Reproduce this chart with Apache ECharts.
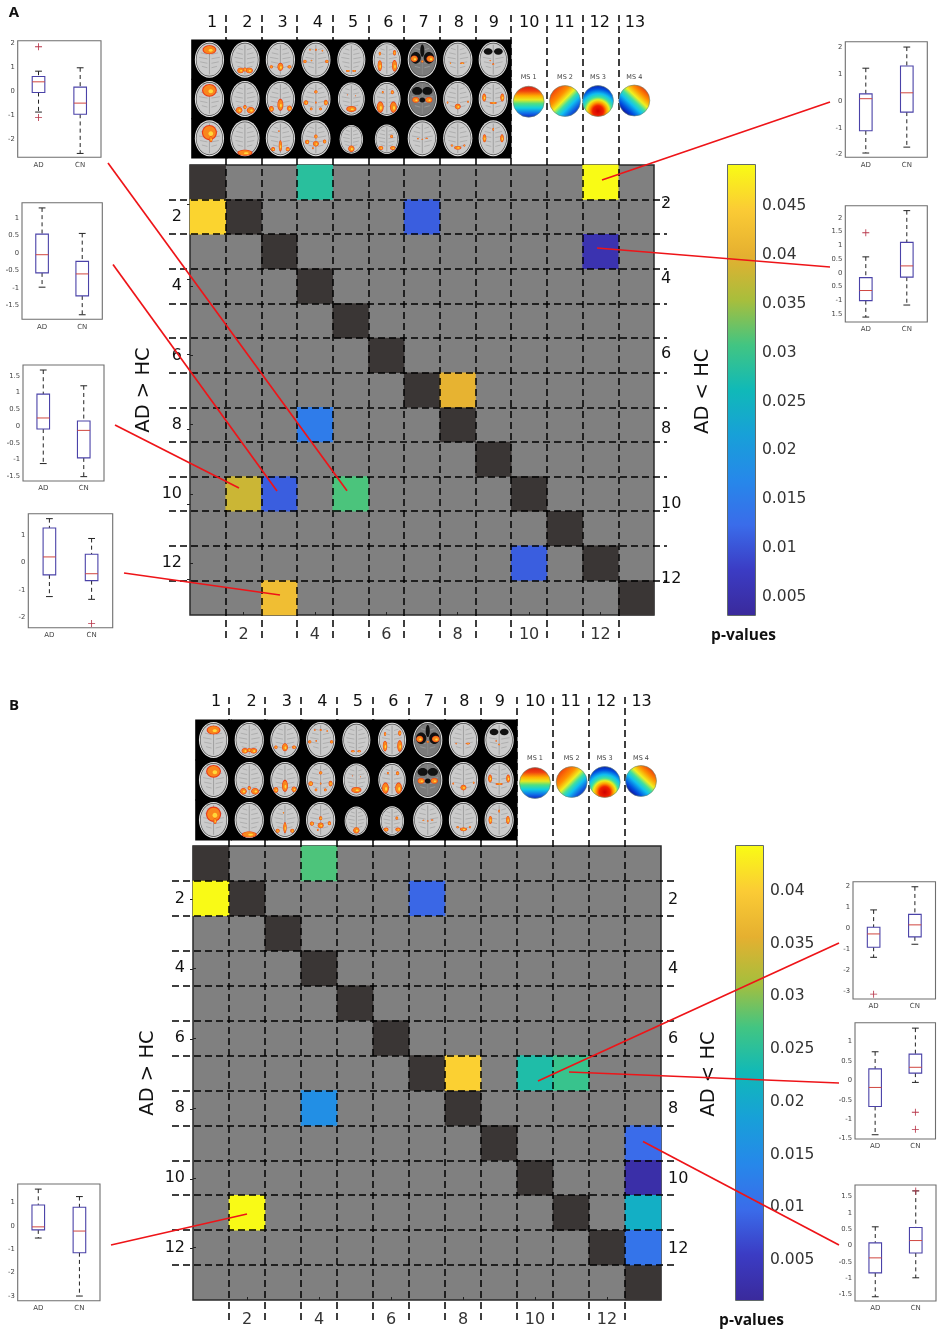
<!DOCTYPE html>
<html>
<head>
<meta charset="utf-8">
<style>html,body{margin:0;padding:0;background:#fff}#c{width:941px;height:1339px}</style>
<script src="https://cdn.jsdelivr.net/npm/echarts@6/dist/echarts.min.js"></script>
</head>
<body>
<div id="c"></div>
<script>
// ---------- values ----------
const categories = ['1','2','3','4','5','6','7','8','9','10','11','12','13'];
const boxGroups = ['AD','CN'];
// [column, row, p-value]  (1-based)
const sigCellsA = [[4,1,0.0285],[12,1,0.0492],[1,2,0.0455],[7,2,0.011],[12,3,0.0055],[8,7,0.0405],[4,8,0.015],[2,10,0.038],[3,10,0.011],[5,10,0.0312],[10,12,0.011],[3,13,0.0423]];
const sigCellsB = [[4,1,0.0275],[1,2,0.0442],[7,2,0.0094],[8,7,0.0404],[10,7,0.024],[11,7,0.0262],[4,8,0.0154],[13,9,0.0098],[13,10,0.0025],[13,11,0.021],[2,11,0.0442],[13,12,0.0111]];
const pTicksA = [0.005,0.01,0.015,0.02,0.025,0.03,0.035,0.04,0.045];
const pTicksB = [0.005,0.01,0.015,0.02,0.025,0.03,0.035,0.04];
// [lower cap, Q1, median, Q3, upper cap] for AD then CN
const boxA1 = [[-0.86,-0.05,0.39,0.61,0.83],[-2.57,-0.95,-0.49,0.17,0.97]];
const boxA2 = [[-0.98,-0.57,-0.05,0.54,1.29],[-1.77,-1.23,-0.6,-0.24,0.56]];
const boxA3 = [[-1.12,-0.09,0.24,0.95,1.67],[-1.51,-0.95,-0.13,0.15,1.2]];
const boxA4 = [[-1.24,-0.45,0.2,1.25,1.59],[-1.34,-0.66,-0.41,0.3,0.87]];
const boxA5 = [[-1.94,-1.11,0.09,0.27,1.23],[-1.72,-0.41,0.31,1.31,2.02]];
const boxA6 = [[-1.62,-1.02,-0.65,-0.18,0.58],[-1.18,-0.16,0.25,1.11,2.27]];
const boxB1 = [[-0.52,-0.17,-0.04,0.9,1.58],[-3.01,-1.15,-0.22,0.8,1.26]];
const boxB2 = [[-1.37,-0.89,-0.26,0.06,0.88],[-0.75,-0.4,0.17,0.67,1.98]];
const boxB3 = [[-1.4,-0.67,-0.18,0.3,0.74],[-0.05,0.19,0.34,0.68,1.35]];
const boxB4 = [[-1.57,-0.84,-0.38,0.08,0.57],[-0.99,-0.23,0.15,0.55,1.67]];
// [group index, value]
const outA1 = [[0,1.84],[0,-1.08]];
const outA2 = [];
const outA3 = [];
const outA4 = [[1,-2.22]];
const outA5 = [];
const outA6 = [[0,1.46]];
const outB1 = [];
const outB2 = [[0,-3.12]];
const outB3 = [[1,-0.82],[1,-1.26]];
const outB4 = [[1,1.67]];
const ticks2 = [-2,-1,0,1,2];
const ticksA2 = [-1.5,-1,-0.5,0,0.5,1];
const ticksA3 = [-1.5,-1,-0.5,0,0.5,1,1.5];
const ticksA4 = [-2,-1,0,1];
const ticksA6 = [-1.5,-1,-0.5,0,0.5,1,1.5,2];
const ticksB1 = [-3,-2,-1,0,1];
const ticksB2 = [-3,-2,-1,0,1,2];
const ticksB3 = [-1.5,-1,-0.5,0,0.5,1];
const ticksB4 = [-1.5,-1,-0.5,0,0.5,1,1.5];
const msLabels = ['MS 1','MS 2','MS 3','MS 4'];
const parula = ['#3A2A9C','#3B3CC4','#3A6CEA','#2688EA','#18A0D8','#10B9B8','#42C582','#A8BE3C','#E5B030','#FBCB35','#F9FB15'];

// brain slice activations, unit-circle offsets [dx,dy,rx,ry] by column then row
const brainBlobs = [
 [[[0,-.55,.42,.22]],[[0,-.48,.45,.32]],[[0,-.32,.46,.38],[.1,.05,.1,.15]]],
 [[[-.3,.6,.2,.14],[.3,.6,.22,.14],[0,.55,.12,.1]],[[-.4,.62,.2,.16],[.4,.62,.24,.16],[0,.45,.1,.1]],[[0,.8,.46,.15]]],
 [[[0,.4,.18,.2],[-.62,.4,.1,.08],[.62,.4,.12,.08]],[[0,.32,.18,.3],[-.62,.55,.15,.14],[.62,.52,.15,.14]],[[0,.42,.1,.28],[-.5,.6,.12,.1],[.5,.6,.12,.1],[-.1,-.4,.04,.04]]],
 [[[-.75,.1,.1,.08],[.75,.1,.1,.08],[0,-.55,.06,.05],[-.4,-.55,.05,.04],[.45,-.5,.05,.04],[-.3,.05,.05,.04]],[[-.68,.2,.14,.12],[.68,.2,.12,.14],[0,-.4,.1,.08],[0,.2,.05,.05],[-.32,.55,.08,.07],[.32,.55,.08,.07]],[[0,-.1,.1,.1],[0,.3,.18,.14],[-.6,.2,.13,.11],[.6,.18,.1,.1],[-.2,.55,.05,.05]]],
 [[[-.25,.65,.12,.05],[.2,.65,.12,.05]],[[0,.6,.34,.16],[-.3,-.25,.03,.03],[.3,-.2,.03,.03]],[[0,.65,.24,.2]]],
 [[[-.5,.35,.14,.28],[.55,.35,.16,.3],[.55,-.4,.1,.14],[-.5,-.35,.07,.1]],[[-.48,.48,.22,.3],[.48,.48,.22,.3],[.4,-.4,.1,.1],[-.3,-.4,.06,.06]],[[-.5,.58,.18,.12],[.5,.58,.2,.12],[.4,-.2,.1,.1]]],
 [[[-.55,-.05,.22,.16],[.55,-.05,.24,.16],[0,.1,.07,.05]],[[-.45,.05,.22,.14],[.45,.05,.22,.14]],[[-.3,.02,.06,.03],[.3,.0,.08,.03],[0,.05,.05,.03]]],
 [[[.3,.2,.14,.04],[-.5,.2,.04,.04]],[[0,.42,.18,.14],[-.7,.2,.05,.05],[.7,.15,.05,.05]],[[0,.52,.22,.09],[-.4,.4,.07,.05],[.45,.4,.06,.05]]],
 [[[0,.25,.06,.04],[-.2,.05,.05,.03]],[[-.62,-.08,.12,.2],[.62,-.08,.12,.2],[0,.22,.22,.05]],[[-.6,0,.11,.2],[.6,0,.11,.2],[0,-.5,.05,.08]]]
];
const brainDark = {'6,0':[[-.45,-.1,.35,.32],[.45,-.1,.35,.32],[0,-.5,.14,.34]],'6,1':[[-.35,-.45,.35,.22],[.35,-.45,.35,.22],[0,.05,.2,.14]],'8,0':[[-.35,-.45,.3,.18],[.35,-.45,.3,.18]]};
const brainScale = {'4,0':.96,'4,1':.92,'4,2':.8,'5,0':.96,'5,1':.94,'5,2':.82};

// ---------- layout ----------
const panelA = {left:190,top:165,width:464,height:450,vTop:15,vBottom:638,hLeft:169,hRight:667,
  labelLeft:194.5,labelWidth:458,labelTop:14,
  nameGapL:36,nameGapR:39,rightTop:147.5,rightHeight:487.5,sig:sigCellsA,
  bar:{left:728,top:165,width:27,height:450,min:0.00316,max:0.0492,ticks:pTicksA},
  brain:{left:191.7,top:40,width:319.3,height:118},ms:{x:[528.7,565,598,634.3],y:[101.7,101,101,100.5],labelY:77}};
const panelB = {left:193,top:846,width:468,height:454,vTop:697,vBottom:1323,hLeft:172,hRight:674,
  labelLeft:198.3,labelWidth:461,labelTop:693,
  nameGapL:35,nameGapR:38,rightTop:847,rightHeight:454,sig:sigCellsB,
  bar:{left:736,top:846,width:27,height:454,min:0.0012,max:0.04427,ticks:pTicksB},
  brain:{left:195.7,top:720,width:321.3,height:120},ms:{x:[535,571.7,604.7,641],y:[783,782,782,781],labelY:758}};
const boxes = [
 {l:17.7,r:101,t:40.7,b:157.3,min:-2.73,max:2.09,ticks:ticks2,d:boxA1,o:outA1},
 {l:22,r:102.3,t:202.7,b:319.3,min:-1.9,max:1.44,ticks:ticksA2,d:boxA2,o:outA2},
 {l:23,r:104,t:365,b:481,min:-1.64,max:1.82,ticks:ticksA3,d:boxA3,o:outA3},
 {l:28.3,r:112.7,t:513.7,b:627.7,min:-2.37,max:1.77,ticks:ticksA4,d:boxA4,o:outA4},
 {l:845.3,r:927.3,t:41.7,b:157.3,min:-2.1,max:2.22,ticks:ticks2,d:boxA5,o:outA5},
 {l:845.3,r:927.3,t:205.7,b:322,min:-1.8,max:2.45,ticks:ticksA6,d:boxA6,o:outA6,noMinus:true},
 {l:17.7,r:100,t:1184,b:1300.7,min:-3.21,max:1.8,ticks:ticksB1,d:boxB1,o:outB1},
 {l:853,r:935.5,t:881.7,b:999,min:-3.35,max:2.22,ticks:ticksB2,d:boxB2,o:outB2},
 {l:855,r:935.5,t:1022.7,b:1139,min:-1.51,max:1.49,ticks:ticksB3,d:boxB3,o:outB3},
 {l:855,r:936,t:1185,b:1301,min:-1.7,max:1.85,ticks:ticksB4,d:boxB4,o:outB4}
];
const redLines = [[108,163,347,490.7],[113,264.5,277,491],[115,425,239,488],[124,573,280,595],[830,102,602,180],[830,267,597,248],
  [111,1245,247,1214],[839,943,538,1081],[839,1083,569,1072],[839,1245,643,1141.6]];

const FONT = '"DejaVu Sans"';
const grid = [], xAxis = [], yAxis = [], series = [], visualMap = [], graphic = [];
const DASH = {color:'#000',width:1.5,type:[7,4]};

function hiddenValue(min,max,gi,extra){ return Object.assign({type:'value',gridIndex:gi,min,max,show:false},extra||{}); }

function addPanel(P){
  // heatmap
  const g = grid.length;
  grid.push({left:P.left,top:P.top,width:P.width,height:P.height,show:true,backgroundColor:'#808080',borderColor:'#2a2a2a',borderWidth:1.5,containLabel:false});
  const oddOnly = (i)=> i%2===1;
  const xi = xAxis.length, yi = yAxis.length;
  const tick = {show:true,inside:true,length:3,interval:oddOnly,alignWithLabel:true,lineStyle:{color:'#222'}};
  const nameStyle = {fontSize:19.5,color:'#111',fontFamily:FONT};
  xAxis.push({type:'category',gridIndex:g,data:categories,position:'bottom',
    axisLine:{show:false},splitLine:{show:false},axisTick:tick,
    axisLabel:{interval:oddOnly,margin:12,fontSize:16,color:'#333',fontFamily:FONT}});
  yAxis.push({type:'category',gridIndex:g,data:categories,inverse:true,position:'left',name:'AD > HC',nameGap:P.nameGapL,
    nameLocation:'middle',nameRotate:90,nameTextStyle:nameStyle,axisLine:{show:false},splitLine:{show:false},axisTick:tick,
    axisLabel:{interval:oddOnly,margin:8,fontSize:16,color:'#111',fontFamily:FONT}});
  // diagonal
  series.push({type:'heatmap',xAxisIndex:xi,yAxisIndex:yi,data:categories.map((c,i)=>[i,i,1]),
    itemStyle:{color:'#3a3635'},silent:true,emphasis:{disabled:true}});
  // significant cells
  const si = series.length;
  series.push({type:'heatmap',xAxisIndex:xi,yAxisIndex:yi,data:P.sig.map(d=>[d[0]-1,d[1]-1,d[2]]),silent:true,emphasis:{disabled:true}});
  visualMap.push({type:'continuous',show:false,seriesIndex:si,dimension:2,min:P.bar.min,max:P.bar.max,inRange:{color:parula}});

  // right-hand row numbers keep their own spacing in the figure
  const gr = grid.length;
  grid.push({left:P.left,top:P.rightTop,width:P.width,height:P.rightHeight});
  xAxis.push(hiddenValue(0,1,gr));
  yAxis.push({type:'category',gridIndex:gr,data:categories,inverse:true,position:'right',name:'AD < HC',nameGap:P.nameGapR,
    nameLocation:'middle',nameRotate:90,nameTextStyle:nameStyle,axisLine:{show:false},splitLine:{show:false},axisTick:tick,
    axisLabel:{interval:oddOnly,margin:7,fontSize:16,color:'#111',fontFamily:FONT}});

  // column numbers over the image strip
  const gl = grid.length;
  grid.push({left:P.labelLeft,top:P.labelTop,width:P.labelWidth,height:1});
  xAxis.push({type:'category',gridIndex:gl,data:categories,position:'bottom',axisLine:{show:false},axisTick:{show:false},splitLine:{show:false},
    axisLabel:{interval:0,margin:0,fontSize:16,color:'#111',fontFamily:FONT}});
  yAxis.push(hiddenValue(0,1,gl));

  // vertical dashed separators, reaching past the matrix
  const gv = grid.length;
  grid.push({left:P.left,top:P.vTop,width:P.width,height:P.vBottom-P.vTop});
  xAxis.push({type:'value',gridIndex:gv,min:0,max:13,interval:1,z:3,axisLine:{show:false},axisTick:{show:false},axisLabel:{show:false},
    splitLine:{show:true,showMinLine:false,showMaxLine:false,lineStyle:DASH}});
  yAxis.push(hiddenValue(0,1,gv));

  // horizontal dashed separators
  const gh = grid.length;
  grid.push({left:P.hLeft,top:P.top,width:P.hRight-P.hLeft,height:P.height});
  xAxis.push(Object.assign({},hiddenValue(0,1,gh)));
  yAxis.push({type:'value',gridIndex:gh,min:0,max:13,interval:1,z:3,axisLine:{show:false},axisTick:{show:false},axisLabel:{show:false},
    splitLine:{show:true,showMinLine:false,showMaxLine:false,lineStyle:DASH}});

  // colour bar
  const B = P.bar, gb = grid.length;
  grid.push({left:B.left,top:B.top,width:B.width,height:B.height,show:true,borderColor:'#2f3a3a',borderWidth:1.5,backgroundColor:'#fff'});
  const bx = xAxis.length, by = yAxis.length;
  xAxis.push({type:'category',gridIndex:gb,data:['p'],show:false,boundaryGap:true});
  yAxis.push({type:'value',gridIndex:gb,position:'right',min:B.min,max:B.max,splitLine:{show:false},axisLine:{show:false},
    axisTick:{show:true,inside:true,length:3,customValues:B.ticks,lineStyle:{color:'#111'}},
    axisLabel:{customValues:B.ticks,margin:7,fontSize:15.5,color:'#333',fontFamily:FONT,formatter:v=>String(v)}});
  series.push({type:'bar',xAxisIndex:bx,yAxisIndex:by,data:[B.max],barWidth:'100%',silent:true,
    itemStyle:{color:{type:'linear',x:0,y:1,x2:0,y2:0,colorStops:parula.map((c,i)=>({offset:i/(parula.length-1),color:c}))}}});

  // image strip: slices through the brain
  const S = P.brain, gs = grid.length;
  grid.push({left:S.left,top:S.top,width:S.width,height:S.height});
  xAxis.push(hiddenValue(0,9,gs));
  yAxis.push(hiddenValue(0,3,gs,{inverse:true}));
  const cells=[]; brainBlobs.forEach((col,c)=>col.forEach((_,r)=>cells.push([c,r])));
  series.push({type:'custom',xAxisIndex:xAxis.length-1,yAxisIndex:yAxis.length-1,z:4,silent:true,data:cells,clip:false,
    renderItem:renderBrain,encode:{x:0,y:1}});

  // microstate maps
  const stops = a=>a.map(s=>({offset:s[0],color:s[1]}));
  const msFills = [
   {type:'linear',x:0,y:0,x2:0,y2:1,colorStops:stops([[0,'#d81a10'],[.16,'#f04010'],[.32,'#ffb000'],[.44,'#e8e820'],[.56,'#50e080'],[.7,'#10d0e0'],[.86,'#1070e8'],[1,'#1020c0']])},
   {type:'linear',x:.1,y:.1,x2:.9,y2:.9,colorStops:stops([[0,'#f03010'],[.3,'#ff9000'],[.46,'#f0f020'],[.58,'#40e0a0'],[.7,'#10c0f0'],[.85,'#1060e0'],[1,'#1020b0']])},
   {type:'radial',x:.5,y:.82,r:.85,colorStops:stops([[0,'#d00000'],[.2,'#f02000'],[.32,'#ffa000'],[.42,'#e8f020'],[.52,'#40e0a0'],[.65,'#10c0f0'],[.82,'#0050e0'],[1,'#1010a0']])},
   {type:'linear',x:.85,y:.1,x2:.15,y2:.85,colorStops:stops([[0,'#e83010'],[.22,'#ff9000'],[.4,'#f0f020'],[.53,'#40e0a0'],[.66,'#10c0f0'],[.85,'#0050e0'],[1,'#1010a0']])}
  ];
  msLabels.forEach((t,i)=>{
    graphic.push({type:'circle',z:5,silent:true,shape:{cx:P.ms.x[i],cy:P.ms.y[i],r:15.5},style:{fill:msFills[i],stroke:'#6a8a70',lineWidth:.6}});
    graphic.push({type:'text',z:5,silent:true,x:P.ms.x[i],y:P.ms.labelY,style:{text:t,fill:'#444',font:'6.5px '+FONT,textAlign:'center',textVerticalAlign:'middle'}});
  });
}

function renderBrain(params,api){
  const c=api.value(0), r=api.value(1);
  const p=api.coord([c+.5,r+.5]), size=api.size([1,1]);
  const key=c+','+r, k=brainScale[key]||1;
  const rx=14.6*k, ry=18*k, cx=p[0], cy=p[1]+(k<.9?1:0);
  const e=(dx,dy,a,b,fill)=>({type:'ellipse',shape:{cx:cx+dx*rx,cy:cy+dy*ry,rx:a*rx,ry:b*ry},style:{fill}});
  const kids=[{type:'rect',shape:{x:p[0]-size[0]/2-.5,y:p[1]-size[1]/2-.5,width:size[0]+1,height:size[1]+1},style:{fill:'#000'}}];
  kids.push(e(0,0,1,1,'#e4e4e4'));
  kids.push(e(0,0,.93,.94,'#444'));
  kids.push(e(0,0,.89,.9,c===6&&r<2?'#7a7a7a':'#cbcbcb'));
  // gyri
  [-.55,-.3,-.05,.2,.45].forEach(d=>{[-1,1].forEach(s=>{kids.push({type:'line',shape:{x1:cx+s*.14*rx,y1:cy+d*ry,x2:cx+s*(.74-Math.abs(d)*.5)*rx,y2:cy+(d-.08)*ry},style:{stroke:'#a2a2a2',lineWidth:.7}});});});
  kids.push({type:'line',shape:{x1:cx,y1:cy-.82*ry,x2:cx,y2:cy+.82*ry},style:{stroke:'#8e8e8e',lineWidth:.7}});
  (brainDark[key]||[]).forEach(b=>kids.push(e(b[0],b[1],b[2],b[3],'#111')));
  brainBlobs[c][r].forEach(b=>{
    kids.push(e(b[0],b[1],b[2]*1.12,b[3]*1.12,'#ea3a18'));
    kids.push(e(b[0],b[1],b[2]*.95,b[3]*.95,'#f9861c'));
    kids.push(e(b[0]+b[2]*.2,b[1]+b[3]*.15,b[2]*.35,b[3]*.35,'#ffd83a'));
  });
  return {type:'group',children:kids};
}

function renderBox(params,api){
  const i=api.value(0);
  const top=api.coord([i,api.value(5)]), q3=api.coord([i,api.value(4)]), med=api.coord([i,api.value(3)]), q1=api.coord([i,api.value(2)]), low=api.coord([i,api.value(1)]);
  const x=top[0], hw=6.3, cw=3.4;
  const black={stroke:'#222',lineWidth:1}, dash={stroke:'#222',lineWidth:1,lineDash:[4,3.2]};
  const ln=(x1,y1,x2,y2,st)=>({type:'line',shape:{x1,y1,x2,y2},style:st});
  return {type:'group',children:[
    ln(x,top[1],x,q3[1],dash), ln(x,q1[1],x,low[1],dash),
    ln(x-cw,top[1],x+cw,top[1],black), ln(x-cw,low[1],x+cw,low[1],black),
    {type:'rect',shape:{x:x-hw,y:q3[1],width:hw*2,height:q1[1]-q3[1]},style:{fill:'#fff',stroke:'#4a42a8',lineWidth:1.1}},
    ln(x-hw,med[1],x+hw,med[1],{stroke:'#d0463f',lineWidth:1})
  ]};
}

function addBox(b){
  const g=grid.length;
  grid.push({left:b.l,top:b.t,width:b.r-b.l,height:b.b-b.t,show:true,backgroundColor:'#fff',borderColor:'#6e6e6e',borderWidth:1.1});
  const xi=xAxis.length, yi=yAxis.length;
  xAxis.push({type:'category',gridIndex:g,data:boxGroups,axisLine:{show:false},axisTick:{show:false},splitLine:{show:false},
    axisLabel:{interval:0,margin:4,fontSize:7,color:'#444',fontFamily:FONT}});
  yAxis.push({type:'value',gridIndex:g,min:b.min,max:b.max,axisLine:{show:false},splitLine:{show:false},
    axisTick:{show:false,customValues:b.ticks},
    axisLabel:{customValues:b.ticks,margin:3,fontSize:6.8,color:'#444',fontFamily:FONT,
      formatter:v=>(b.noMinus&&v<0&&v!==-1)?String(-v):String(v)}});
  series.push({type:'custom',xAxisIndex:xi,yAxisIndex:yi,silent:true,z:3,renderItem:renderBox,
    encode:{x:0,y:[1,2,3,4,5]},data:b.d.map((v,i)=>[i].concat(v))});
  if(b.o.length){
    series.push({type:'scatter',xAxisIndex:xi,yAxisIndex:yi,silent:true,z:4,data:b.o,symbol:'path://M4.4 0H5.6V4.4H10V5.6H5.6V10H4.4V5.6H0V4.4H4.4Z',symbolSize:7,
      itemStyle:{color:'#b8364a',opacity:1}});
  }
}

addPanel(panelA);
addPanel(panelB);
boxes.forEach(addBox);

[['A',14,13],['B',14,706]].forEach(t=>graphic.push({type:'text',z:6,x:t[1],y:t[2],style:{text:t[0],fill:'#111',font:'bold 15px "Open Sans"',textAlign:'center',textVerticalAlign:'middle'}}));
[[743.5,636],[751.5,1321]].forEach(t=>graphic.push({type:'text',z:6,x:t[0],y:t[1],style:{text:'p-values',fill:'#111',font:'bold 15.5px "Open Sans"',textAlign:'center',textVerticalAlign:'middle'}}));
redLines.forEach(l=>graphic.push({type:'line',z:100,silent:true,shape:{x1:l[0],y1:l[1],x2:l[2],y2:l[3]},style:{stroke:'#ee1418',lineWidth:1.7}}));

const chart = echarts.init(document.getElementById('c'),null,{renderer:'canvas'});
chart.setOption({animation:false,backgroundColor:'#fff',textStyle:{fontFamily:FONT},tooltip:{show:false},
  grid,xAxis,yAxis,series,visualMap,graphic:{elements:graphic}});
</script>
</body>
</html>
